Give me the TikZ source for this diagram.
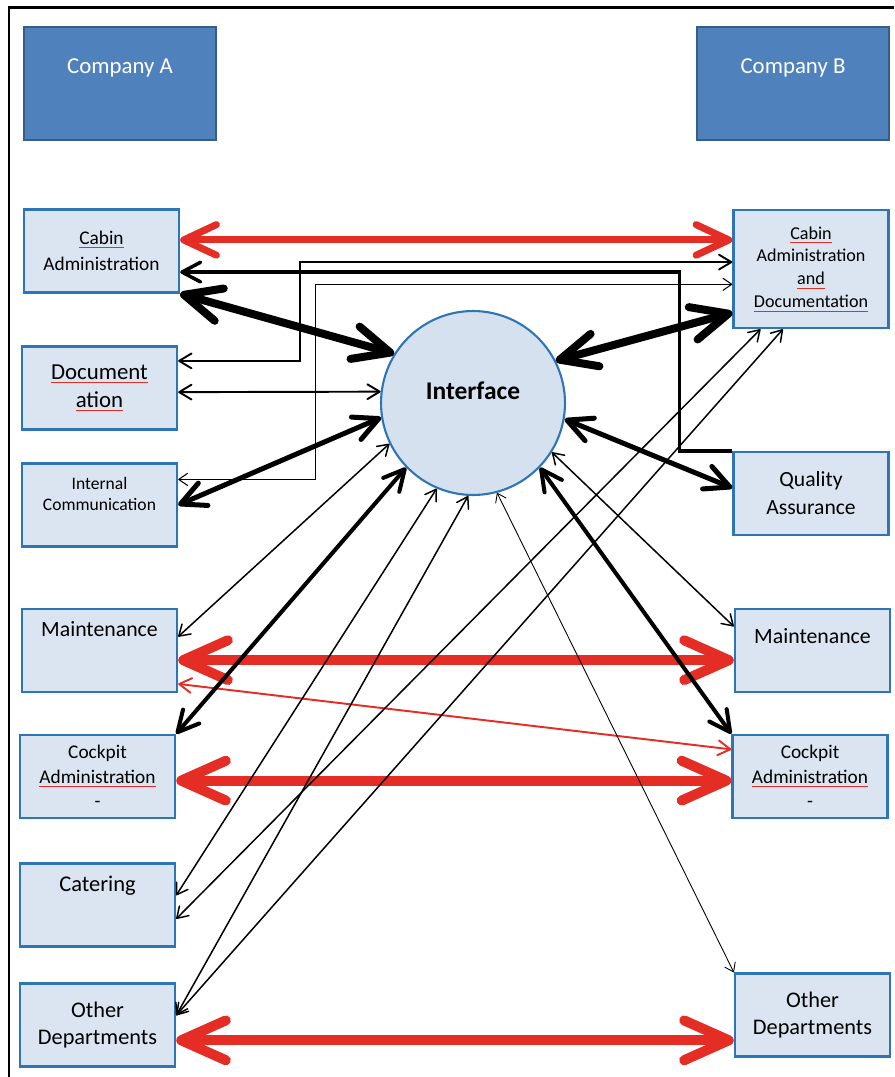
\documentclass[tikz,border=0pt]{standalone}
\usepackage{fontspec}
\setmainfont{Carlito}
\usetikzlibrary{arrows.meta}

\definecolor{deptfill}{RGB}{219,229,241}
\definecolor{deptline}{RGB}{46,117,182}
\definecolor{ifacefill}{RGB}{214,225,240}
\definecolor{companyfill}{RGB}{79,129,189}
\definecolor{companyline}{RGB}{56,93,138}
\definecolor{linkred}{RGB}{228,45,36}

\newsavebox{\spellbox}
\newcommand{\spell}[1]{\sbox{\spellbox}{#1}\rlap{\color{linkred}\rule[-2.2pt]{\wd\spellbox}{0.5pt}}\usebox{\spellbox}}
\newcommand{\setfs}[2]{\fontsize{#1}{#2}\selectfont}

\tikzset{
  company/.style={draw=companyline, line width=1pt, fill=companyfill, text=white,
    minimum width=3.84cm, minimum height=2.26cm, inner sep=0pt, text depth=0.7cm,
    font=\setfs{13}{15}},
  dept/.style={draw=deptline, line width=1.4pt, fill=deptfill, minimum width=3.1cm,
    minimum height=1.66cm, inner sep=0pt, align=center},
  link/.style={<->, line width=#1},
  redlink/.style={<->, draw=linkred, line width=#1},
}

\begin{document}
\begin{tikzpicture}[x=0.02cm, y=-0.02cm,
    >={Straight Barb[length=2.6pt 4, width=5pt 3.1, round]}]
\useasboundingbox (0,0) rectangle (894,1077);
\draw[line width=1.7pt] (9,1077) -- (9,8) -- (894,8);

\node[company] (compA) at (120,83.5) {Company A};
\node[company] (compB) at (793,83.5) {Company B};

\node[dept, font=\setfs{11}{15}] (cabinL) at (101.5,251) {\spell{Cabin}\\Administration};
\node[dept, font=\setfs{13}{16}] (docL) at (99.5,388) {\spell{Document}\\\spell{ation}};
\node[dept, font=\setfs{10}{12}, text depth=0.45cm] (intL) at (99.5,505) {Internal\\Communication};
\node[dept, font=\setfs{12.4}{15}, text depth=0.85cm] (maintL) at (99.5,650.5) {Maintenance};
\node[dept, font=\setfs{11}{14}] (cockL) at (97.5,776.5) {Cockpit\\\spell{Administration}\\-};
\node[dept, font=\setfs{12.8}{15}, text depth=0.85cm] (catL) at (97.5,905) {Catering};
\node[dept, font=\setfs{12.7}{15.5}] (otherL) at (97.5,1025) {Other\\Departments};

\node[dept, minimum height=2.36cm, font=\setfs{10.3}{13}] (cabinR) at (811,269)
  {\spell{Cabin}\\Administration\\\spell{and}\\\spell{Documentation}};
\node[dept, font=\setfs{12.3}{16}] (qaR) at (811,493.5) {Quality\\Assurance};
\node[dept, font=\setfs{12.4}{15}, text depth=0.6cm] (maintR) at (812.5,650.5) {Maintenance};
\node[dept, font=\setfs{11}{14}] (cockR) at (810,776.5) {Cockpit\\\spell{Administration}\\-};
\node[dept, font=\setfs{12.7}{15.5}] (otherR) at (812.5,1015) {Other\\Departments};

\node[circle, draw=deptline, line width=1.2pt, fill=ifacefill, minimum size=3.68cm,
  inner sep=0pt, text depth=0.5cm, font=\setfs{14.5}{17}\bfseries] (iface) at (473,403) {Interface};

\draw[redlink=4pt] (cabinL.8) -- (cabinL.8 -| cabinR.west);
\draw[redlink=5.7pt] (maintL.353) -- (maintL.353 -| maintR.west);
\draw[redlink=5.7pt] (cockL.357) -- (cockL.357 -| cockR.west);
\draw[redlink=5.7pt] (otherL.349) -- (otherL.349 -| otherR.west);
\draw[redlink=1.1pt] (maintL.337) -- (cockR.161);

\draw[->, line width=2pt] (qaR.north west) -- ++(-53,0) |- (cabinL.345);
\draw[link=1.1pt] (docL.19) -- ++(122,0) |- (cabinR.175);
\draw[link=0.6pt] (intL.18) -- ++(137,0) |- (cabinR.191);

\draw[link=4.55pt] (cabinL.south east) -- (iface.148);
\draw[link=1.1pt] (docL.357) -- (iface.173);
\draw[link=2.85pt] (intL.east) -- (iface.189);
\draw[link=4.55pt] (iface.27) -- (cabinR.209);
\draw[link=2.85pt] (iface.350) -- (qaR.176);

\draw[link=0.85pt] (iface.206) -- (maintL.10);
\draw[link=2.3pt] (iface.224) -- (cockL.north east);
\draw[link=0.85pt] (iface.247) -- (catL.7);
\draw[link=0.85pt] (iface.267) -- (otherL.7);
\draw[link=0.85pt] (cabinR.230) -- (catL.350);
\draw[link=0.85pt] (cabinR.245) -- (otherL.7);
\draw[link=0.5pt] (iface.285) -- (otherR.north west);
\draw[link=2.3pt] (iface.316) -- (cockR.north west);
\draw[link=0.85pt] (iface.328) -- (maintR.163);
\end{tikzpicture}
\end{document}
